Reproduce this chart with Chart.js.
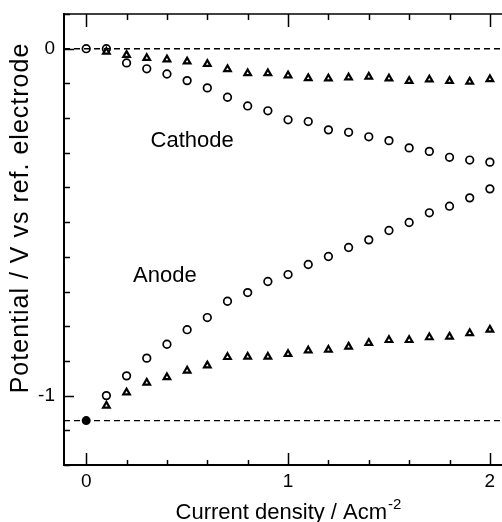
<!DOCTYPE html>
<html>
<head>
<meta charset="utf-8">
<script src="https://cdn.jsdelivr.net/npm/chart.js@4.4.1/dist/chart.umd.min.js"></script>
<style>
  html, body { margin: 0; padding: 0; background: #ffffff; }
  #wrap { width: 502px; height: 522px; }
</style>
</head>
<body>
<div id="wrap"><canvas id="potentialChart" width="502" height="522"></canvas></div>
<script>
/* Electrode potentials vs current density (cathode / anode) */

// current density, A cm-2
var currentDensity = [0, 0.1, 0.2, 0.3, 0.4, 0.5, 0.6, 0.7, 0.8, 0.9, 1.0,
                      1.1, 1.2, 1.3, 1.4, 1.5, 1.6, 1.7, 1.8, 1.9, 2.0];

// potential / V vs ref. electrode
var cathodeCircles = [0, 0, -0.041, -0.058, -0.073, -0.092, -0.113, -0.140, -0.165, -0.179, -0.205,
                      -0.210, -0.234, -0.241, -0.254, -0.265, -0.286, -0.296, -0.313, -0.321, -0.327];
var cathodeTriangles = [null, -0.009, -0.018, -0.027, -0.031, -0.037, -0.044, -0.059, -0.071, -0.071, -0.077,
                        -0.085, -0.086, -0.083, -0.081, -0.086, -0.093, -0.089, -0.093, -0.095, -0.088];
var anodeCircles = [null, -1.000, -0.943, -0.892, -0.852, -0.810, -0.775, -0.728, -0.703, -0.671, -0.651,
                    -0.622, -0.599, -0.573, -0.551, -0.524, -0.501, -0.473, -0.454, -0.430, -0.404];
var anodeTriangles = [null, -1.029, -0.991, -0.963, -0.947, -0.928, -0.913, -0.889, -0.888, -0.888, -0.880,
                      -0.870, -0.868, -0.859, -0.848, -0.840, -0.840, -0.832, -0.830, -0.820, -0.810];

var referenceLevel = 0;        // upper dashed line
var restPotential = -1.072;    // open-circuit anode potential (filled dot + lower dashed line)

var xRange = [-0.11, 2.06];
var yRange = [-1.2, 0.1];
var xTickValues = [0, 0.2, 0.4, 0.6, 0.8, 1.0, 1.2, 1.4, 1.6, 1.8, 2.0];
var yTickValues = [-1.2, -1.1, -1.0, -0.9, -0.8, -0.7, -0.6, -0.5, -0.4, -0.3, -0.2, -0.1, 0, 0.1];
var xTickLabels = ['0', '1', '2'];
var yTickLabels = ['-1', '0'];

var curveLabels = ['Cathode', 'Anode'];
var curveLabelX = [0.525, 0.39];
var curveLabelY = [-0.265, -0.654];

var FONT = '"Liberation Sans", Arial, Helvetica, sans-serif';

function toPoints(xs, ys) {
  var pts = [];
  for (var i = 0; i < xs.length; i++) {
    if (ys[i] !== null) pts.push({ x: xs[i], y: ys[i] });
  }
  return pts;
}

function levelLine(y) {
  return [{ x: xRange[0], y: y }, { x: xRange[1], y: y }];
}

function isMajor(v) {
  return Math.abs(v - Math.round(v)) < 1e-6;
}

function markerSet(data, style) {
  return {
    type: 'scatter',
    data: data,
    showLine: false,
    pointStyle: style,
    pointRadius: 3.8,
    pointBorderWidth: style === 'triangle' ? 2.2 : 1.7,
    pointBorderColor: '#000000',
    pointBackgroundColor: '#ffffff'
  };
}

function dashedSet(data) {
  return {
    type: 'line',
    data: data,
    showLine: true,
    borderColor: '#000000',
    borderWidth: 1.4,
    borderDash: [6, 4],
    pointRadius: 0,
    fill: false
  };
}

// no extra room for the outer tick labels: the frame sits at the padding
function noLabelPadding(scale) {
  scale.paddingTop = 0;
  scale.paddingBottom = 0;
  scale.paddingLeft = 0;
  scale.paddingRight = 0;
}

// inward tick marks, top frame line, curve names and axis titles
var decorations = {
  id: 'decorations',
  afterDraw: function (chart) {
    var c = chart.ctx;
    var area = chart.chartArea;
    var xs = chart.scales.x;
    var ys = chart.scales.y;

    c.save();
    c.strokeStyle = '#000000';
    c.lineWidth = 1.5;

    // top frame
    c.beginPath();
    c.moveTo(area.left, area.top);
    c.lineTo(area.right, area.top);
    c.stroke();

    // x ticks, bottom and top, pointing inwards
    xs.ticks.forEach(function (t) {
      var px = Math.round(xs.getPixelForValue(t.value)) + 0.5;
      var major = isMajor(t.value);
      c.beginPath();
      c.moveTo(px, area.bottom);
      c.lineTo(px, area.bottom - (major ? 12 : 5));
      c.moveTo(px, area.top);
      c.lineTo(px, area.top + (major ? 13 : 6));
      c.stroke();
    });

    // y ticks on the left
    ys.ticks.forEach(function (t) {
      var py = Math.round(ys.getPixelForValue(t.value)) + 0.5;
      c.beginPath();
      c.moveTo(area.left, py);
      c.lineTo(area.left + (isMajor(t.value) ? 10 : 6), py);
      c.stroke();
    });

    // curve names
    c.fillStyle = '#000000';
    c.font = '22px ' + FONT;
    c.textAlign = 'center';
    c.textBaseline = 'middle';
    for (var i = 0; i < curveLabels.length; i++) {
      c.fillText(curveLabels[i], xs.getPixelForValue(curveLabelX[i]), ys.getPixelForValue(curveLabelY[i]));
    }

    // x axis title with superscript
    var main = 'Current density / Acm';
    var sup = '-2';
    c.font = '22px ' + FONT;
    var wMain = c.measureText(main).width;
    c.font = '15px ' + FONT;
    var wSup = c.measureText(sup).width;
    var startX = 288 - (wMain + wSup) / 2;
    c.textAlign = 'left';
    c.textBaseline = 'alphabetic';
    c.font = '22px ' + FONT;
    c.fillText(main, startX, 519);
    c.font = '15px ' + FONT;
    c.fillText(sup, startX + wMain + 1, 509);

    // y axis title
    c.save();
    c.translate(28, 218);
    c.rotate(-Math.PI / 2);
    c.font = '25px ' + FONT;
    c.letterSpacing = '1px';
    c.textAlign = 'center';
    c.textBaseline = 'alphabetic';
    c.fillText('Potential / V vs ref. electrode', 0, 0);
    c.restore();

    c.restore();
  }
};

new Chart(document.getElementById('potentialChart'), {
  type: 'scatter',
  data: {
    datasets: [
      dashedSet(levelLine(referenceLevel)),
      dashedSet(levelLine(restPotential)),
      markerSet(toPoints(currentDensity, cathodeTriangles), 'triangle'),
      markerSet(toPoints(currentDensity, cathodeCircles), 'circle'),
      markerSet(toPoints(currentDensity, anodeTriangles), 'triangle'),
      markerSet(toPoints(currentDensity, anodeCircles), 'circle'),
      {
        type: 'scatter',
        data: [{ x: 0, y: restPotential }],
        pointStyle: 'circle',
        pointRadius: 4.5,
        pointBorderWidth: 0,
        pointBackgroundColor: '#000000'
      }
    ]
  },
  options: {
    responsive: false,
    animation: false,
    layout: { autoPadding: false, padding: { top: 14, right: 0, left: 0, bottom: 0 } },
    plugins: {
      legend: { display: false },
      tooltip: { enabled: false }
    },
    scales: {
      x: {
        type: 'linear',
        min: xRange[0],
        max: xRange[1],
        afterBuildTicks: function (scale) {
          scale.ticks = xTickValues.map(function (v) { return { value: v }; });
        },
        afterFit: function (scale) {
          scale.height = 57;
          noLabelPadding(scale);
        },
        grid: { display: false, drawTicks: false, tickLength: 0 },
        border: { display: true, color: '#000000', width: 2 },
        ticks: {
          color: '#000000',
          font: { family: FONT, size: 19 },
          padding: 5,
          maxRotation: 0,
          autoSkip: false,
          callback: function (v) {
            var s = String(Math.round(v));
            return isMajor(v) && xTickLabels.indexOf(s) >= 0 ? s : '';
          }
        }
      },
      y: {
        type: 'linear',
        min: yRange[0],
        max: yRange[1],
        afterBuildTicks: function (scale) {
          scale.ticks = yTickValues.map(function (v) { return { value: v }; });
        },
        afterFit: function (scale) {
          scale.width = 64;
          noLabelPadding(scale);
        },
        grid: { display: false, drawTicks: false, tickLength: 0 },
        border: { display: true, color: '#000000', width: 2 },
        ticks: {
          color: '#000000',
          font: { family: FONT, size: 19 },
          padding: 9,
          autoSkip: false,
          callback: function (v) {
            var s = String(Math.round(v));
            return isMajor(v) && yTickLabels.indexOf(s) >= 0 ? s : '';
          }
        }
      }
    }
  },
  plugins: [decorations]
});
</script>
</body>
</html>
